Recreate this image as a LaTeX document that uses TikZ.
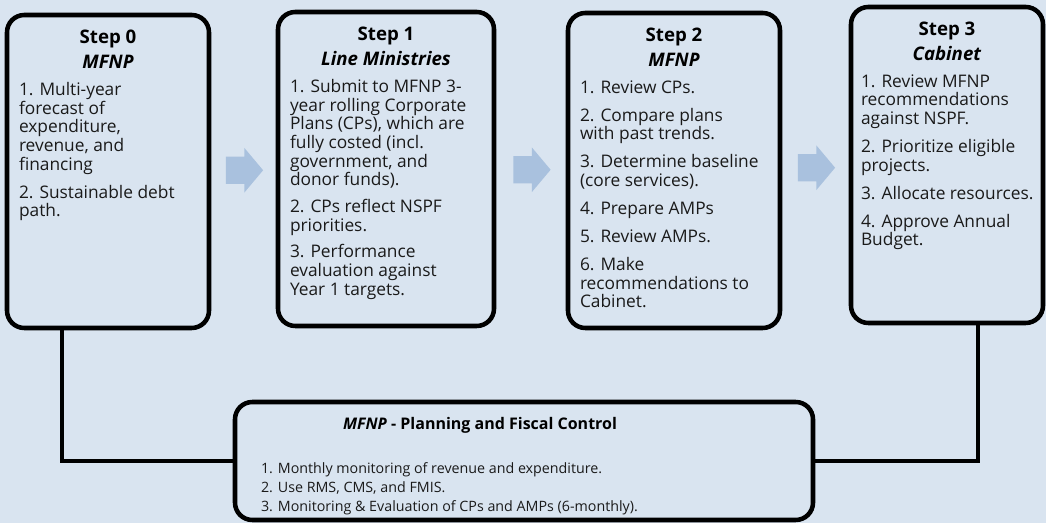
\documentclass[tikz,border=0pt]{standalone}
\usepackage{fontspec}
\setmainfont{Open Sans}
\usetikzlibrary{shapes.arrows}
\usetikzlibrary{positioning}
\usetikzlibrary{calc}
\definecolor{bgblue}{RGB}{217,228,240}
\definecolor{arrowblue}{RGB}{169,193,222}
\definecolor{inkgray}{RGB}{26,26,26}

\begin{document}
\begin{tikzpicture}[x=0.75pt,y=-0.75pt,font=\fontsize{13}{14}\selectfont]
        \tikzstyle{stepbox}=[draw, line width=3.4pt, rounded corners=13pt, fill=bgblue, inner sep=0pt]
        \tikzstyle{steptitle}=[anchor=north, align=center, inner sep=0pt, font=\fontsize{14}{18.75}\selectfont\bfseries]
        \tikzstyle{steptext}=[anchor=north west, align=left, inner sep=0pt, text=inkgray]
        \tikzstyle{flow}=[single arrow, fill=arrowblue, draw=none, anchor=tail, xshift=-13.5pt, minimum height=28pt, inner xsep=0pt, inner ysep=10pt, single arrow head extend=6.5pt, single arrow tip angle=100]
        \tikzstyle{link}=[draw, line width=3.6pt]
        \fill[bgblue] (0,0) rectangle (1046,523);
        % the four steps
        \node[stepbox, minimum width=151.5pt, minimum height=234.75pt] (stepzero) at (108,171.5) {};
        \node[stepbox, minimum width=162pt, minimum height=235.5pt] (stepone) at (386,169) {};
        \node[stepbox, minimum width=159pt, minimum height=236.25pt] (steptwo) at (674,170.5) {};
        \node[stepbox, minimum width=144pt, minimum height=237pt] (stepthree) at (947,165) {};
        \node[stepbox, minimum width=433.5pt, minimum height=88.5pt] (control) at (524,461) {};
        % titles
        \node[steptitle] (zerotitle) at ([yshift=-12.5pt]stepzero.north) {Step 0\\\textit{MFNP}};
        \node[steptitle] (onetitle) at ([yshift=-12.5pt]stepone.north) {Step 1\\\textit{Line Ministries}};
        \node[steptitle] (twotitle) at ([yshift=-12.5pt]steptwo.north) {Step 2\\\textit{MFNP}};
        \node[steptitle] (threetitle) at ([yshift=-12.5pt]stepthree.north) {Step 3\\\textit{Cabinet}};
        % items
        \node[steptext] (zeroitems) at ([xshift=10.5pt,yshift=-52pt]stepzero.north west)
          {1. Multi-year\\forecast of\\expenditure,\\revenue, and\\financing\\[7pt]2. Sustainable debt\\path.};
        \node[steptext] (oneitems) at ([xshift=10.5pt,yshift=-52pt]stepone.north west)
          {1. Submit to MFNP 3-\\year rolling Corporate\\Plans (CPs), which are\\fully costed (incl.\\government, and\\donor funds).\\[6pt]2. CPs reflect NSPF\\priorities.\\[6pt]3. Performance\\evaluation against\\Year 1 targets.};
        \node[steptext] (twoitems) at ([xshift=10.5pt,yshift=-52pt]steptwo.north west)
          {1. Review CPs.\\[7pt]2. Compare plans\\with past trends.\\[7pt]3. Determine baseline\\(core services).\\[7pt]4. Prepare AMPs\\[7pt]5. Review AMPs.\\[7pt]6. Make\\recommendations to\\Cabinet.};
        \node[steptext] (threeitems) at ([xshift=9pt,yshift=-52pt]stepthree.north west)
          {1. Review MFNP\\recommendations\\against NSPF.\\[7pt]2. Prioritize eligible\\projects.\\[7pt]3. Allocate resources.\\[7pt]4. Approve Annual\\Budget.};
        \node[steptitle, align=left, font=\fontsize{12}{14}\selectfont\bfseries] (controltitle) at ([xshift=-33pt,yshift=-13pt]control.north) {\textit{MFNP} - Planning and Fiscal Control};
        \node[steptext, font=\fontsize{10.7}{14.25}\selectfont] (controlitems) at ([xshift=21pt,yshift=-47pt]control.north west)
          {1. Monthly monitoring of revenue and expenditure.\\2. Use RMS, CMS, and FMIS.\\3. Monitoring \& Evaluation of CPs and AMPs (6-monthly).};
        % arrows between steps
        \node[flow] (flowa) at ($(stepzero.east)!.5!(stepone.west)$) {};
        \node[flow] (flowb) at ($(stepone.east)!.5!(steptwo.west)$) {};
        \node[flow] (flowc) at ($(steptwo.east)!.5!(stepthree.west)$) {};
        % links to fiscal control
        \draw[link] ([xshift=-34.5pt]stepzero.south) |- (control.west);
        \draw[link] ([xshift=23.25pt]stepthree.south) |- (control.east);
\end{tikzpicture}
\end{document}
